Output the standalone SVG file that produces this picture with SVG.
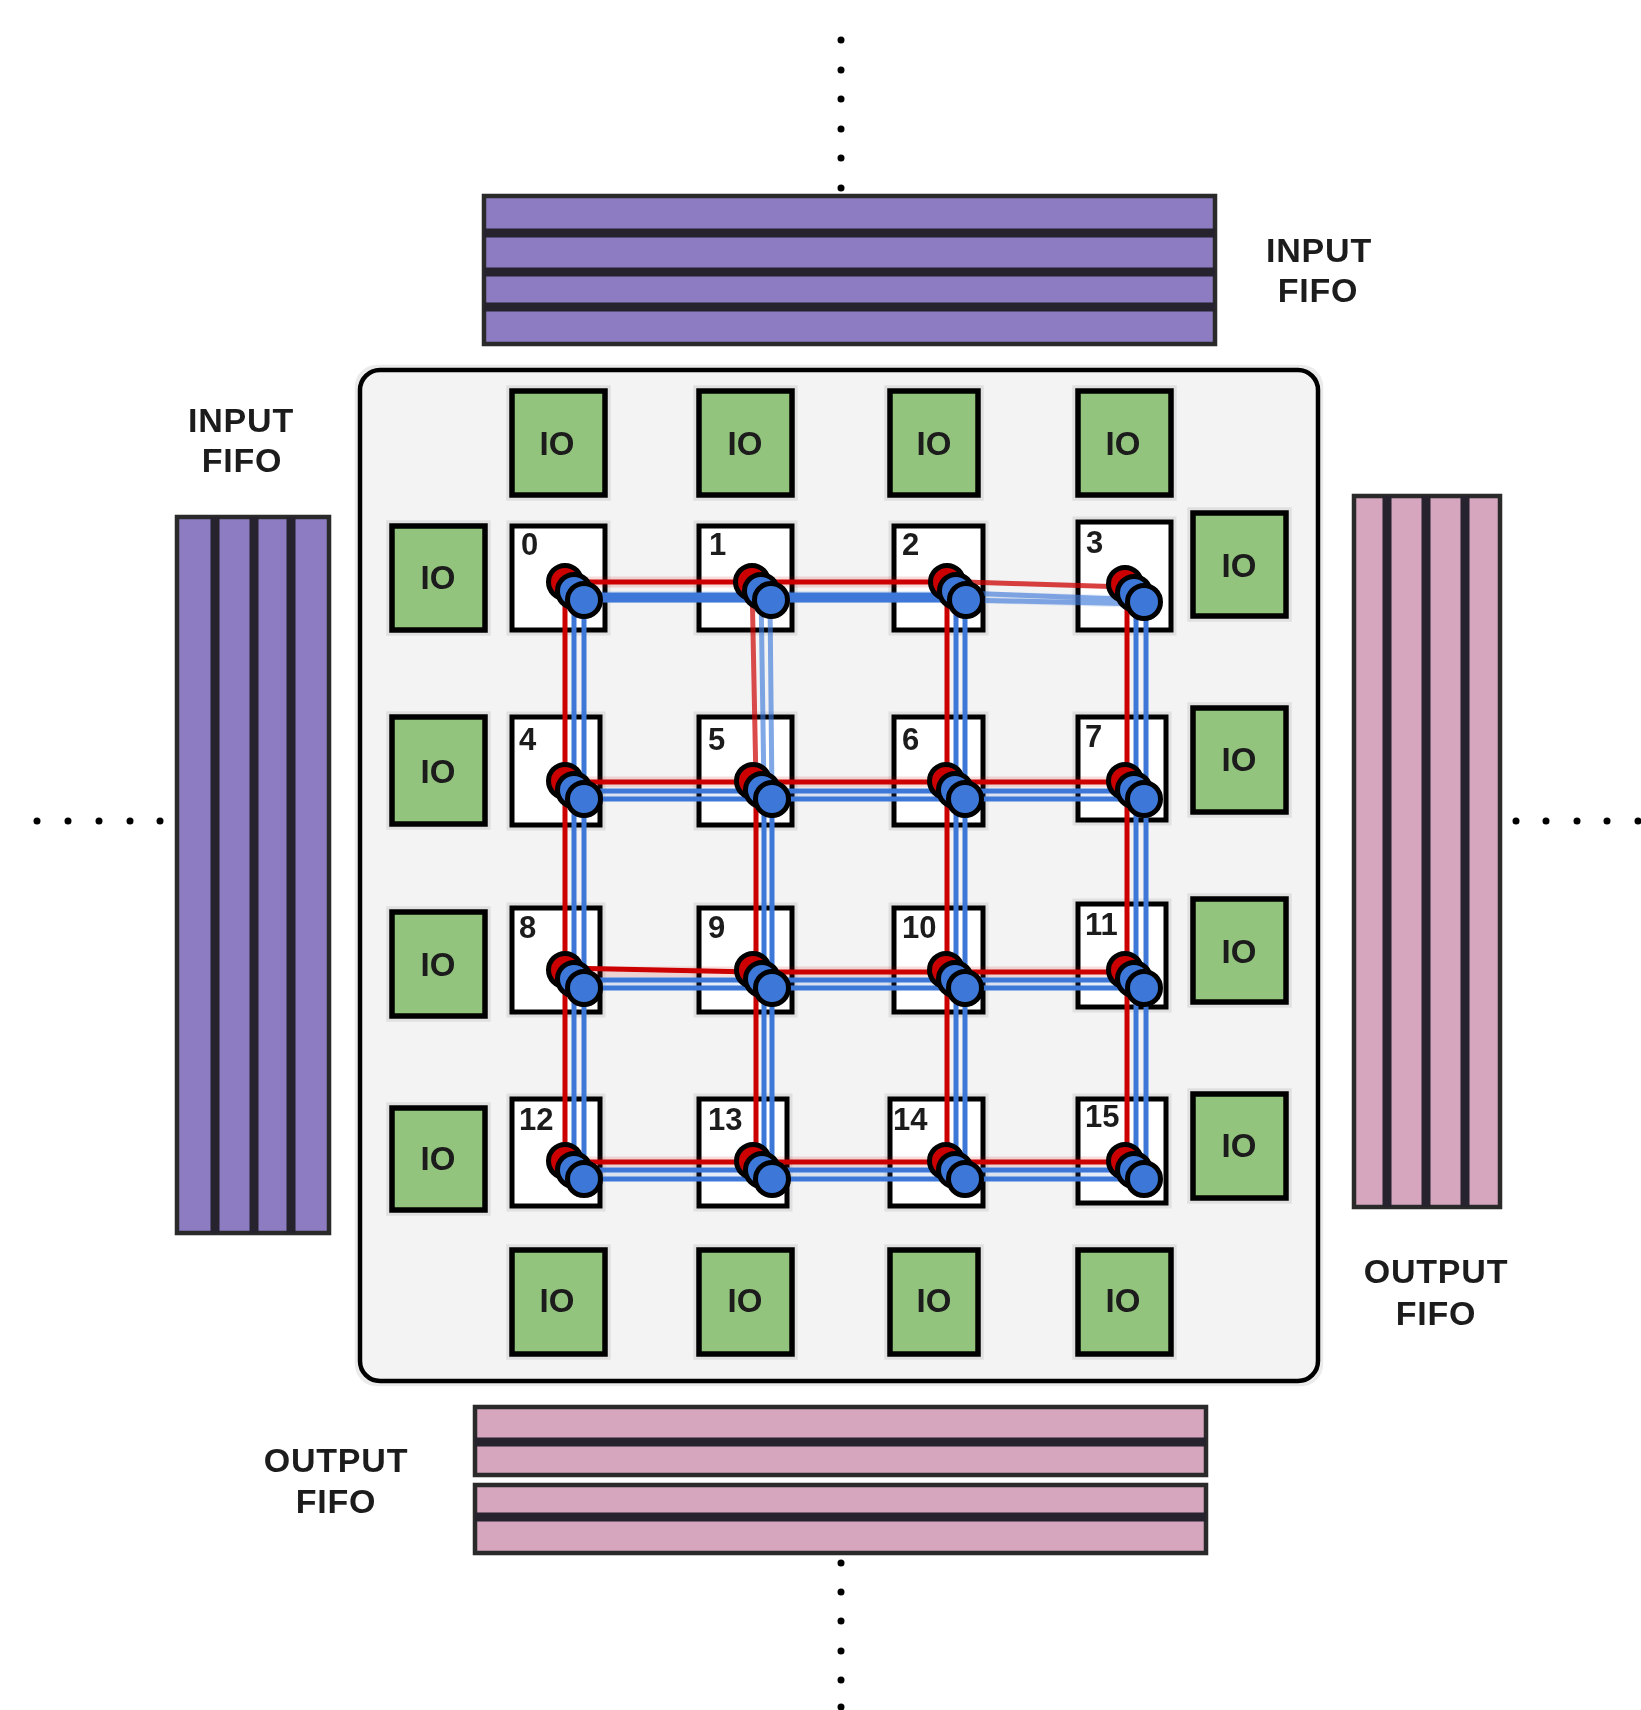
<svg xmlns="http://www.w3.org/2000/svg" xmlns:xlink="http://www.w3.org/1999/xlink" width="1641" height="1710" viewBox="0 0 1641 1710">
<defs>
<filter id="halo" x="-10%" y="-10%" width="120%" height="120%"><feMorphology in="SourceAlpha" operator="dilate" radius="3" result="d"/><feFlood flood-color="#000" flood-opacity=".08"/><feComposite in2="d" operator="in" result="h"/><feMerge><feMergeNode in="h"/><feMergeNode in="SourceGraphic"/></feMerge></filter>
<filter id="soft" x="-5%" y="-5%" width="110%" height="110%"><feGaussianBlur stdDeviation="0.5"/></filter>
<circle id="r" r="16.5" fill="#cc0000" stroke="#000" stroke-width="5"/>
<circle id="b" r="16.5" fill="#3c78d8" stroke="#000" stroke-width="5"/>
<g id="port"><use xlink:href="#r" x="-19" y="-18"/><use xlink:href="#b" x="-10" y="-9"/><use xlink:href="#b"/></g>
</defs>
<style>
text{font-family:"Liberation Sans",Arial,sans-serif;fill:#111;text-anchor:middle}
.panel{fill:#f3f3f3;stroke:#000;stroke-width:4.5}
.io rect{fill:#93c47d;stroke:#000;stroke-width:5.5;filter:url(#halo)}
.io text{font-size:33px;dominant-baseline:central;font-weight:bold;fill:#1c1c1c}
.pe rect{fill:#fff;stroke:#000;stroke-width:5;filter:url(#halo)}
.pe text{font-size:31px;font-weight:bold;text-anchor:start;fill:#1c1c1c}
.fi{fill:#8e7cc3;stroke:#2a2a2a;stroke-width:4.5}
.fo{fill:#d5a6bd;stroke:#2a2a2a;stroke-width:4.5}
.bar{stroke:#25232e;stroke-width:9}
.lab{font-size:34px;font-weight:bold;letter-spacing:.8px;fill:#1c1c1c}
.dot{fill:#000}
.red{stroke:#cc0000;stroke-width:5;fill:none}
.blue{stroke:#3c78d8;stroke-width:5;fill:none}
.wide{stroke-width:10}
.rh{stroke:#cc0000;stroke-width:11;opacity:.13}
.bh{stroke:#3c78d8;stroke-width:12;opacity:.13}
</style>
<rect width="1641" height="1710" fill="#fff"/>
<g filter="url(#soft)">
<g id="dots-top" class="dot"><circle cx="841" cy="40" r="3.5"/><circle cx="841" cy="70" r="3.5"/><circle cx="841" cy="99" r="3.5"/><circle cx="841" cy="129" r="3.5"/><circle cx="841" cy="158" r="3.5"/><circle cx="841" cy="188" r="3.5"/></g>
<g id="dots-bottom" class="dot"><circle cx="841" cy="1563" r="3.5"/><circle cx="841" cy="1592" r="3.5"/><circle cx="841" cy="1621" r="3.5"/><circle cx="841" cy="1651" r="3.5"/><circle cx="841" cy="1680" r="3.5"/><circle cx="841" cy="1707" r="3.5"/></g>
<g id="dots-left" class="dot"><circle cx="37" cy="821" r="3.5"/><circle cx="68" cy="821" r="3.5"/><circle cx="99" cy="821" r="3.5"/><circle cx="130" cy="821" r="3.5"/><circle cx="160" cy="821" r="3.5"/></g>
<g id="dots-right" class="dot"><circle cx="1516" cy="821" r="3.5"/><circle cx="1546" cy="821" r="3.5"/><circle cx="1577" cy="821" r="3.5"/><circle cx="1607" cy="821" r="3.5"/><circle cx="1638" cy="821" r="3.5"/></g>

<g id="fifo-top"><rect class="fi" x="484" y="196" width="731" height="148"/><path class="bar" d="M484 233H1215M484 272H1215M484 307H1215"/></g>
<g id="fifo-bottom"><rect class="fo" x="475" y="1407" width="731" height="68"/><rect class="fo" x="475" y="1485" width="731" height="68"/><path class="bar" d="M475 1442H1206M475 1517H1206"/></g>
<g id="fifo-left"><rect class="fi" x="177" y="517" width="152" height="716"/><path class="bar" d="M215 517V1233M254 517V1233M291 517V1233"/></g>
<g id="fifo-right"><rect class="fo" x="1354" y="496" width="146" height="711"/><path class="bar" d="M1387 496V1207M1426 496V1207M1465 496V1207"/></g>

<g id="label-input-top"><text class="lab" x="1319" y="262">INPUT</text><text class="lab" x="1318" y="302">FIFO</text></g>
<g id="label-input-left"><text class="lab" x="241" y="432">INPUT</text><text class="lab" x="242" y="472">FIFO</text></g>
<g id="label-output-right"><text class="lab" x="1436" y="1283">OUTPUT</text><text class="lab" x="1436" y="1325">FIFO</text></g>
<g id="label-output-bottom"><text class="lab" x="336" y="1472">OUTPUT</text><text class="lab" x="336" y="1513">FIFO</text></g>

<rect id="panel" class="panel" x="360" y="370" width="958" height="1011" rx="20" filter="url(#halo)"/>

<g id="io-top-0" class="io"><rect x="512" y="391" width="93" height="104"/><text x="557" y="443">IO</text></g>
<g id="io-top-1" class="io"><rect x="699" y="391" width="93" height="104"/><text x="745" y="443">IO</text></g>
<g id="io-top-2" class="io"><rect x="890" y="391" width="88" height="104"/><text x="934" y="443">IO</text></g>
<g id="io-top-3" class="io"><rect x="1078" y="391" width="93" height="104"/><text x="1123" y="443">IO</text></g>
<g id="io-bottom-0" class="io"><rect x="512" y="1250" width="93" height="104"/><text x="557" y="1300">IO</text></g>
<g id="io-bottom-1" class="io"><rect x="699" y="1250" width="93" height="104"/><text x="745" y="1300">IO</text></g>
<g id="io-bottom-2" class="io"><rect x="890" y="1250" width="88" height="104"/><text x="934" y="1300">IO</text></g>
<g id="io-bottom-3" class="io"><rect x="1078" y="1250" width="93" height="104"/><text x="1123" y="1300">IO</text></g>
<g id="io-left-0" class="io"><rect x="392" y="526" width="93" height="104"/><text x="438" y="577">IO</text></g>
<g id="io-left-1" class="io"><rect x="392" y="717" width="93" height="107"/><text x="438" y="771">IO</text></g>
<g id="io-left-2" class="io"><rect x="392" y="912" width="93" height="104"/><text x="438" y="964">IO</text></g>
<g id="io-left-3" class="io"><rect x="392" y="1108" width="93" height="102"/><text x="438" y="1158">IO</text></g>
<g id="io-right-0" class="io"><rect x="1193" y="513" width="93" height="103"/><text x="1239" y="565">IO</text></g>
<g id="io-right-1" class="io"><rect x="1193" y="708" width="93" height="104"/><text x="1239" y="759">IO</text></g>
<g id="io-right-2" class="io"><rect x="1193" y="899" width="93" height="103"/><text x="1239" y="951">IO</text></g>
<g id="io-right-3" class="io"><rect x="1193" y="1094" width="93" height="104"/><text x="1239" y="1145">IO</text></g>

<g id="node-0" class="pe"><rect x="512" y="526" width="93" height="104"/><text x="521" y="555">0</text></g>
<g id="node-1" class="pe"><rect x="699" y="526" width="93" height="104"/><text x="709" y="555">1</text></g>
<g id="node-2" class="pe"><rect x="894" y="526" width="89" height="104"/><text x="902" y="555">2</text></g>
<g id="node-3" class="pe"><rect x="1078" y="522" width="93" height="108"/><text x="1086" y="553">3</text></g>
<g id="node-4" class="pe"><rect x="512" y="717" width="88" height="108"/><text x="519" y="750">4</text></g>
<g id="node-5" class="pe"><rect x="699" y="717" width="93" height="108"/><text x="708" y="750">5</text></g>
<g id="node-6" class="pe"><rect x="894" y="717" width="89" height="108"/><text x="902" y="750">6</text></g>
<g id="node-7" class="pe"><rect x="1078" y="717" width="88" height="103"/><text x="1085" y="747">7</text></g>
<g id="node-8" class="pe"><rect x="512" y="908" width="88" height="104"/><text x="519" y="938">8</text></g>
<g id="node-9" class="pe"><rect x="699" y="908" width="93" height="104"/><text x="708" y="938">9</text></g>
<g id="node-10" class="pe"><rect x="894" y="908" width="89" height="104"/><text x="902" y="938">10</text></g>
<g id="node-11" class="pe"><rect x="1078" y="904" width="88" height="103"/><text x="1085" y="935">11</text></g>
<g id="node-12" class="pe"><rect x="512" y="1099" width="88" height="107"/><text x="519" y="1130">12</text></g>
<g id="node-13" class="pe"><rect x="699" y="1099" width="88" height="107"/><text x="708" y="1130">13</text></g>
<g id="node-14" class="pe"><rect x="890" y="1099" width="93" height="107"/><text x="893" y="1130">14</text></g>
<g id="node-15" class="pe"><rect x="1078" y="1099" width="88" height="104"/><text x="1085" y="1127">15</text></g>

<g id="connectors">
<path class="rh" d="M583 582H964M583 782H1146M583 972H1146M583 1162H1146"/>
<path class="bh" d="M583 597H965M583 795H1146M583 984H1146M583 1175H1146M965 597L1146 602"/>
<path class="red" d="M584 582H965"/><path class="red" d="M965 582L1127 587" opacity=".75"/>
<path class="blue wide" d="M584 597.5H965"/><path class="blue" d="M965 593L1146 600M965 600L1146 604" opacity=".6"/>
<path class="red" d="M565 782H1127M565 968L752 972M752 972H1127M565 1162H1127"/>
<path class="blue" d="M574 791H1146M584 799H1146M574 980H1146M584 988H1146M574 1170H1146M584 1179H1146"/>
<path class="red" d="M565 582V1162"/>
<path class="red" d="M752 582L756 782" opacity=".7"/>
<path class="red" d="M756 782V1162M947 582V1162M1127 582V1162"/>
<path class="blue" d="M761 591L764 791M770 600L772 799" opacity=".65"/>
<path class="blue" d="M574 591V1170M584 600V1179M764 791V1170M772 799V1179M956 591V1170M965 600V1179M1136 591V1170M1146 600V1179"/>
</g>

<g id="ports">
<use xlink:href="#port" x="584" y="600"/><use xlink:href="#port" x="771" y="600"/><use xlink:href="#port" x="966" y="600"/><use xlink:href="#port" x="1144" y="602"/>
<use xlink:href="#port" x="584" y="799"/><use xlink:href="#port" x="772" y="799"/><use xlink:href="#port" x="965" y="799"/><use xlink:href="#port" x="1144" y="799"/>
<use xlink:href="#port" x="584" y="988"/><use xlink:href="#port" x="772" y="988"/><use xlink:href="#port" x="965" y="988"/><use xlink:href="#port" x="1144" y="988"/>
<use xlink:href="#port" x="584" y="1179"/><use xlink:href="#port" x="772" y="1179"/><use xlink:href="#port" x="965" y="1179"/><use xlink:href="#port" x="1144" y="1179"/>
</g>
</g>
</svg>
